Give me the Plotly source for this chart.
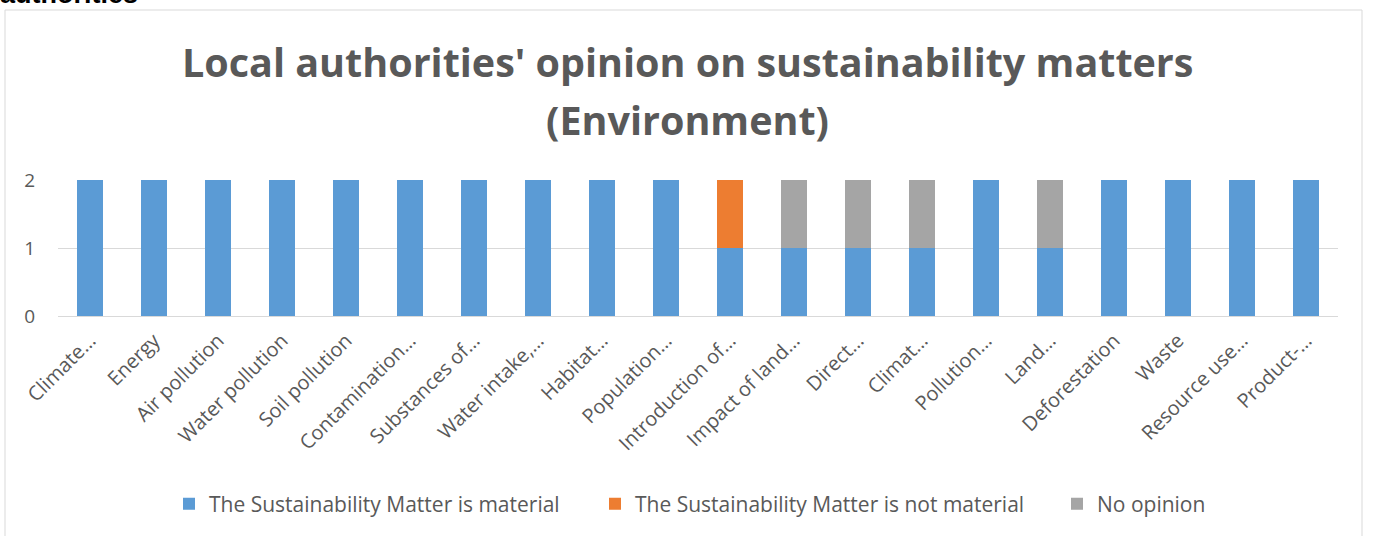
import plotly.graph_objects as go

categories = ["Climate…", "Energy", "Air pollution", "Water pollution", "Soil pollution",
              "Contamination…", "Substances of…", "Water intake,…", "Habitat…", "Population…",
              "Introduction of…", "Impact of land…", "Direct…", "Climat…", "Pollution…",
              "Land…", "Deforestation", "Waste", "Resource use…", "Product-…"]
material = [2, 2, 2, 2, 2, 2, 2, 2, 2, 2, 1, 1, 1, 1, 2, 1, 2, 2, 2, 2]
not_material = [0, 0, 0, 0, 0, 0, 0, 0, 0, 0, 1, 0, 0, 0, 0, 0, 0, 0, 0, 0]
no_opinion = [0, 0, 0, 0, 0, 0, 0, 0, 0, 0, 0, 1, 1, 1, 0, 1, 0, 0, 0, 0]
series_names = ["The Sustainability Matter is material",
                "The Sustainability Matter is not material",
                "No opinion"]
colors = ["#5B9BD5", "#ED7D31", "#A5A5A5"]
y_ticks = [0, 1, 2]

W, H = 1373, 536
L, R, T, B = 58, 35, 180, 220
pw, ph = W - L - R, H - T - B

def px_x(x):
    return (x - L) / pw

def px_y(y):
    return (H - B - y) / ph

FONT = "Open Sans"
GREY = "#595959"

legend_ids = ["legend", "legend2", "legend3"]
legend_square_left = [184, 610, 1072]

fig = go.Figure()
for name, vals, col, lid in zip(series_names, [material, not_material, no_opinion], colors, legend_ids):
    fig.add_trace(go.Bar(x=categories, y=vals, name=name, legend=lid,
                         marker=dict(color=col, line=dict(width=0))))

legend_common = dict(orientation="h", yanchor="middle", y=px_y(504),
                     xanchor="left", font=dict(size=21, color=GREY),
                     itemwidth=30, bgcolor="rgba(0,0,0,0)")
layout_legends = {}
for lid, sq in zip(legend_ids, legend_square_left):
    layout_legends[lid] = dict(legend_common, x=px_x(sq - 15))

fig.update_layout(
    width=W, height=H,
    barmode="stack", bargap=0.6,
    margin=dict(l=L, r=R, t=T, b=B),
    paper_bgcolor="white", plot_bgcolor="white",
    font=dict(family=FONT, color=GREY),
    showlegend=True,
    xaxis=dict(tickangle=-45, tickfont=dict(size=20, color=GREY), showgrid=False,
               showline=False, ticks="", ticklabelstandoff=8),
    yaxis=dict(range=[0, 2], tickvals=y_ticks, tickfont=dict(size=19, color=GREY),
               showgrid=True, gridcolor="#D9D9D9", gridwidth=1, zeroline=True,
               zerolinecolor="#D9D9D9", zerolinewidth=1, showline=False,
               ticklabelstandoff=22),
    **layout_legends,
)

fig.add_shape(type="rect", xref="paper", yref="paper",
              x0=px_x(5), x1=px_x(1362), y0=px_y(545), y1=px_y(10),
              line=dict(color="#D9D9D9", width=1), fillcolor="rgba(0,0,0,0)", layer="below")

fig.add_annotation(text="<b>Local authorities' opinion on sustainability matters</b>",
                   xref="paper", yref="paper", x=px_x(687), y=px_y(62),
                   xanchor="center", yanchor="middle", showarrow=False,
                   font=dict(size=39.5, color=GREY, family=FONT))
fig.add_annotation(text="<b>(Environment)</b>",
                   xref="paper", yref="paper", x=px_x(687), y=px_y(120),
                   xanchor="center", yanchor="middle", showarrow=False,
                   font=dict(size=39.5, color=GREY, family=FONT))
fig.add_annotation(text="<b>authorities</b>",
                   xref="paper", yref="paper", x=px_x(-2), y=px_y(11),
                   xanchor="left", yanchor="bottom", showarrow=False,
                   font=dict(size=27, color="black", family="Liberation Sans"))

fig.write_html("out.html")
